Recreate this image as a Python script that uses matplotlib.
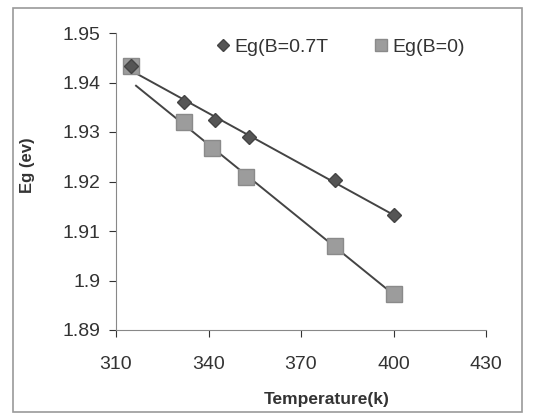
import numpy as np
import matplotlib.pyplot as plt
from matplotlib.patches import Rectangle

plt.rcParams['font.family'] = ['Liberation Sans', 'DejaVu Sans']

# temperatures (K) and band gaps (eV)
temp_b07 = [315, 332, 342, 353, 381, 400]
eg_b07 = [1.9433, 1.9360, 1.9325, 1.9290, 1.9203, 1.9133]
temp_b0 = [315, 332, 341, 352, 381, 400]
eg_b0 = [1.9433, 1.9320, 1.9267, 1.9210, 1.9070, 1.8972]

W, H = 534, 418
fig = plt.figure(figsize=(W / 100, H / 100), dpi=100)
fig.patches.append(Rectangle((13 / W, 6 / H), 509 / W, 404 / H,
                             transform=fig.transFigure, fill=False,
                             edgecolor='#9a9a9a', linewidth=1.2))
ax = fig.add_axes([116 / W, (H - 330) / H, 370 / W, 297 / H])

# linear trend lines (the B=0 one in the original misses the first point)
k, b = np.polyfit(temp_b07, eg_b07, 1)
xs = np.array([temp_b07[0], temp_b07[-1]])
ax.plot(xs, k * xs + b, color='#444444', linewidth=1.4, zorder=2)
k, b = np.polyfit(temp_b0[1:], eg_b0[1:], 1)
xs = np.array([temp_b0[0] + 1.5, temp_b0[-1]])
ax.plot(xs, k * xs + b, color='#444444', linewidth=1.4, zorder=2)

ax.plot(temp_b0, eg_b0, linestyle='none', marker='s', markersize=11,
        color='#9c9c9c', markeredgecolor='#8a8a8a', label='Eg(B=0)', zorder=3)
ax.plot(temp_b07, eg_b07, linestyle='none', marker='D', markersize=7,
        color='#555555', markeredgecolor='#444444', label='Eg(B=0.7T', zorder=4)

ax.set_xlim(310, 430)
ax.set_ylim(1.89, 1.95)
ax.set_xticks([310, 340, 370, 400, 430])
ax.set_yticks([1.89, 1.90, 1.91, 1.92, 1.93, 1.94, 1.95])
ax.set_yticklabels(['1.89', '1.9', '1.91', '1.92', '1.93', '1.94', '1.95'])
ax.tick_params(labelsize=14, colors='#333333', direction='out', length=5)
ax.tick_params(axis='x', pad=14)
ax.tick_params(axis='y', pad=6)

for side in ['top', 'right']:
    ax.spines[side].set_visible(False)
for side in ['left', 'bottom']:
    ax.spines[side].set_color('#888888')

ax.set_xlabel('Temperature(k)', fontsize=12.5, fontweight='bold', color='#333333')
ax.xaxis.set_label_coords((327 - 116) / 370, -0.21)
ax.set_ylabel('Eg (ev)', fontsize=12, fontweight='bold', color='#333333')
ax.yaxis.set_label_coords(-(116 - 35) / 370, (330 - 165) / 297)

handles, labels = ax.get_legend_handles_labels()
ax.legend(handles[::-1], labels[::-1], loc='upper left', bbox_to_anchor=(0.215, 1.04),
          ncol=2, frameon=False, fontsize=14, handletextpad=0.1,
          columnspacing=2.2, handlelength=1.0, markerscale=0.85,
          labelcolor='#333333')

fig.savefig('out.png', dpi=100)
